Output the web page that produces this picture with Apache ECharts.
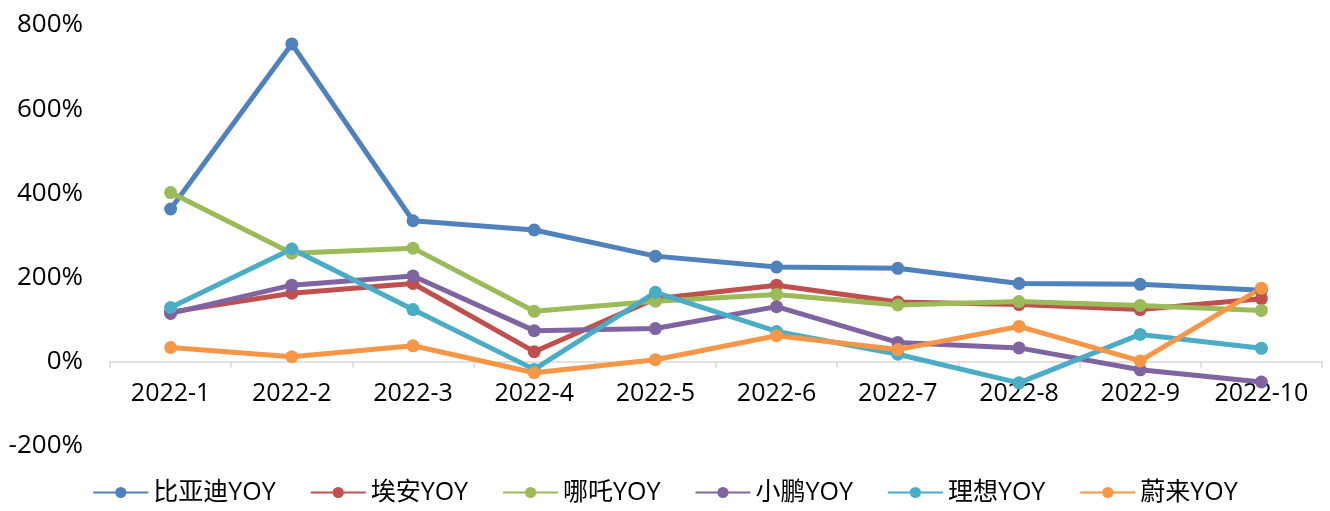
<!DOCTYPE html>
<html>
<head>
<meta charset="utf-8" />
<script src="https://cdn.jsdelivr.net/npm/echarts@6/dist/echarts.min.js"></script>
<style>
    body { margin: 0; padding: 0; background: #fff; }
    #main { width: 1330px; height: 511px; }
</style>
</head>
<body>
<div id="main"></div>
<script type="text/javascript">
    // categories and YoY values (%)
    const months = ['2022-1', '2022-2', '2022-3', '2022-4', '2022-5', '2022-6', '2022-7', '2022-8', '2022-9', '2022-10'];
    const byd   = [363, 755, 335, 313, 251, 225, 222, 186, 184, 170];
    const aion  = [118, 163, 186, 24, 150, 182, 142, 136, 124, 150];
    const nezha = [402, 258, 270, 120, 144, 160, 135, 143, 134, 122];
    const xpeng = [115, 182, 204, 74, 79, 131, 46, 33, -19, -48];
    const li    = [129, 268, 124, -18, 165, 72, 18, -50, 65, 32];
    const nio   = [34, 12, 38, -26, 5, 62, 29, 84, 2, 175];

    const names = ['比亚迪YOY', '埃安YOY', '哪吒YOY', '小鹏YOY', '理想YOY', '蔚来YOY'];
    const colors = ['#4f81bd', '#c0504d', '#9bbb59', '#8064a2', '#4bacc6', '#f79646'];
    const values = [byd, aion, nezha, xpeng, li, nio];

    const font = "'Open Sans', 'Noto Sans CJK SC', sans-serif";
    var myChart = echarts.init(document.getElementById('main'));

    // plot grid from 800% (y=25) down to -200% (y=446)
    const gridTop = 25, gridBottom = 65;
    const plotH = 511 - gridTop - gridBottom;
    // second grid ends on the 0% line, its x axis carries line, ticks and labels
    const zeroBottom = gridBottom + plotH * 0.2;

    var option = {
        backgroundColor: '#FFFFFF',
        color: colors,
        animation: false,
        grid: [
            { left: 110, right: 8, top: gridTop, bottom: gridBottom },
            { left: 110, right: 8, top: gridTop, bottom: zeroBottom }
        ],
        legend: {
            bottom: 1,
            left: 'center',
            itemWidth: 55,
            itemHeight: 14,
            itemGap: 34,
            textStyle: { fontSize: 25, color: '#000', fontFamily: font },
            data: names
        },
        xAxis: [{
            type: 'category',
            gridIndex: 0,
            data: months,
            axisLine: { show: false },
            axisTick: { show: false },
            axisLabel: { show: false }
        }, {
            type: 'category',
            gridIndex: 1,
            data: months,
            axisLine: { onZero: false, lineStyle: { color: '#d9d9d9', width: 1.5 } },
            axisTick: { show: true, length: 6, lineStyle: { color: '#d9d9d9', width: 1.5 } },
            axisLabel: { interval: 0, fontSize: 25, color: '#000', margin: 20, fontFamily: font }
        }],
        yAxis: [{
            type: 'value',
            gridIndex: 0,
            min: -200,
            max: 800,
            interval: 200,
            axisLine: { show: false },
            axisTick: { show: false },
            splitLine: { show: false },
            axisLabel: {
                fontSize: 26, color: '#000', margin: 27, fontFamily: font,
                formatter: '{value}%'
            }
        }, {
            type: 'value',
            gridIndex: 1,
            min: 0,
            max: 800,
            show: false
        }],
        series: names.map((n, i) => ({
            name: n,
            type: 'line',
            xAxisIndex: 0,
            yAxisIndex: 0,
            data: values[i],
            symbol: 'circle',
            symbolSize: 13,
            lineStyle: { width: 5 },
            itemStyle: { color: colors[i] }
        }))
    };

    myChart.setOption(option);
</script>
</body>
</html>
